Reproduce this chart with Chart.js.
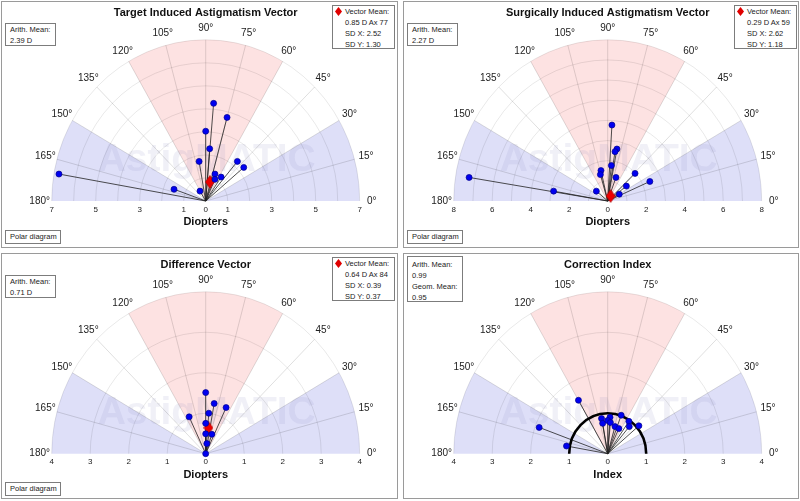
<!DOCTYPE html>
<html>
<head>
<meta charset="utf-8">
<script src="https://cdn.jsdelivr.net/npm/chart.js@4.4.1/dist/chart.umd.min.js"></script>
<style>
  body { margin: 0; width: 800px; height: 501px; background: #fff; position: relative; overflow: hidden;
         font-family: "Liberation Sans", Arial, sans-serif; }
  .panel { position: absolute; }
  .panel canvas { position: absolute; left: 0; top: 0; }
  .frame { position: absolute; left: 0; top: 0; right: 0; bottom: 0; border: 1px solid #9a9a9a; pointer-events: none; }
  .box { position: absolute; border: 1px solid #7c7c7c; background: #fff; box-sizing: border-box;
         font-size: 7.5px; line-height: 11px; color: #222; white-space: nowrap; padding-left: 4px; }
  .box.vec { padding-left: 12px; }
  .dia { position: absolute; left: 3px; top: 3px; width: 5px; height: 5px; background: #e00000;
         transform: scaleY(1.3) rotate(45deg); }
</style>
</head>
<body>
<script>
// angle labels round the half circle and x tick values for each diagram
const angleTicks = [0, 15, 30, 45, 60, 75, 90, 105, 120, 135, 150, 165, 180];
const tiaTicks = [-7, -5, -3, -1, 0, 1, 3, 5, 7];
const siaTicks = [-8, -6, -4, -2, 0, 2, 4, 6, 8];
const dvTicks = [-4, -3, -2, -1, 0, 1, 2, 3, 4];
const ciTicks = [-4, -3, -2, -1, 0, 1, 2, 3, 4];

// Target induced astigmatism vector (D)
const tiaX = [-6.67, -1.44, -0.26, -0.30, 0.00, 0.18, 0.36, 0.97, 0.42, 0.42, 0.70, 1.44, 1.73];
const tiaY = [1.17, 0.51, 0.43, 1.72, 3.03, 2.27, 4.24, 3.63, 1.17, 0.94, 1.04, 1.72, 1.46];
const tiaMean = [0.19, 0.83];

// Surgically induced astigmatism vector (D)
const siaX = [-7.20, -2.81, -0.59, -0.35, -0.38, 0.22, 0.48, 0.38, 0.19, 0.43, 0.97, 1.42, 2.19, 0.60];
const siaY = [1.17, 0.49, 0.49, 1.51, 1.31, 3.77, 2.58, 2.45, 1.76, 1.17, 0.74, 1.37, 0.97, 0.34];
const siaMean = [0.15, 0.25];

// Difference vector (D)
const dvX = [0.00, 0.22, 0.53, 0.08, -0.43, 0.00, 0.00, 0.16, 0.03, 0.00];
const dvY = [1.51, 1.24, 1.14, 1.00, 0.91, 0.75, 0.49, 0.48, 0.25, 0.00];
const dvMean = [0.07, 0.64];

// Correction index
const ciX = [-0.76, -1.78, -1.07, -0.16, -0.13, 0.06, 0.00, 0.07, 0.35, 0.19, 0.29, 0.55, 0.56, 0.81];
const ciY = [1.32, 0.65, 0.19, 0.87, 0.75, 0.90, 0.82, 0.77, 0.95, 0.67, 0.62, 0.80, 0.67, 0.69];

// sector bands (degrees)
const pinkBands = [[60, 120]];
const blueBands = [[0, 30], [150, 180]];

const panels = [
  { left: 1, top: 1, w: 397, h: 247, cy: 198, title: 'Target Induced Astigmatism Vector', axis: 'Diopters',
    max: 7, ticks: tiaTicks, xs: tiaX, ys: tiaY, mean: tiaMean,
    arith: ['Arith. Mean:', '2.39 D'], vec: ['Vector Mean:', '0.85 D Ax 77', 'SD X: 2.52', 'SD Y: 1.30'] },
  { left: 403, top: 1, w: 396, h: 247, cy: 198, title: 'Surgically Induced Astigmatism Vector', axis: 'Diopters',
    max: 8, ticks: siaTicks, xs: siaX, ys: siaY, mean: siaMean,
    arith: ['Arith. Mean:', '2.27 D'], vec: ['Vector Mean:', '0.29 D Ax 59', 'SD X: 2.62', 'SD Y: 1.18'] },
  { left: 1, top: 253, w: 397, h: 246, cy: 198.7, title: 'Difference Vector', axis: 'Diopters',
    max: 4, ticks: dvTicks, xs: dvX, ys: dvY, mean: dvMean,
    arith: ['Arith. Mean:', '0.71 D'], vec: ['Vector Mean:', '0.64 D Ax 84', 'SD X: 0.39', 'SD Y: 0.37'] },
  { left: 403, top: 253, w: 396, h: 246, cy: 198.7, title: 'Correction Index', axis: 'Index',
    max: 4, ticks: ciTicks, xs: ciX, ys: ciY, mean: null, unit: true,
    ci: ['Arith. Mean:', '0.99', 'Geom. Mean:', '0.95'] }
];

const FONT = '"Liberation Sans", Arial, sans-serif';
Chart.defaults.font.family = FONT;
Chart.defaults.color = '#222';

// red diamond marker for the vector mean
const diamond = document.createElement('canvas');
diamond.width = 10; diamond.height = 14;
{
  const c = diamond.getContext('2d');
  c.beginPath();
  c.moveTo(5, 0.5); c.lineTo(9.5, 7); c.lineTo(5, 13.5); c.lineTo(0.5, 7); c.closePath();
  c.fillStyle = '#ee0000'; c.fill();
  c.strokeStyle = '#a00000'; c.lineWidth = 0.6; c.stroke();
}

function polarGrid(p) {
  return {
    id: 'polarGrid',
    beforeDatasetsDraw(chart) {
      const { ctx } = chart;
      const x = chart.scales.x, y = chart.scales.y;
      const cx = x.getPixelForValue(0), cy = y.getPixelForValue(0);
      const rx = x.getPixelForValue(p.max) - cx, ry = cy - y.getPixelForValue(p.max);
      const rad = d => d * Math.PI / 180;
      ctx.save();

      const sector = (a0, a1, color) => {
        ctx.beginPath();
        ctx.moveTo(cx, cy);
        ctx.ellipse(cx, cy, rx, ry, 0, -rad(a1), -rad(a0));
        ctx.closePath();
        ctx.fillStyle = color;
        ctx.fill();
      };
      pinkBands.forEach(b => sector(b[0], b[1], 'rgb(253,226,226)'));
      blueBands.forEach(b => sector(b[0], b[1], 'rgb(222,223,248)'));

      // watermark
      ctx.font = 'bold 39px ' + FONT;
      ctx.textAlign = 'center';
      ctx.textBaseline = 'alphabetic';
      ctx.fillStyle = 'rgba(140,140,190,0.13)';
      ctx.fillText('AstigMATIC', cx + 1, cy - 30);

      // rings
      ctx.strokeStyle = 'rgba(0,0,0,0.09)';
      ctx.lineWidth = 1;
      for (let r = 1; r <= p.max; r++) {
        ctx.beginPath();
        ctx.ellipse(cx, cy, rx * r / p.max, ry * r / p.max, 0, Math.PI, 2 * Math.PI);
        ctx.stroke();
      }
      // spokes every 15 degrees
      ctx.strokeStyle = 'rgba(0,0,0,0.13)';
      angleTicks.slice(1, -1).forEach(a => {
        ctx.beginPath();
        ctx.moveTo(cx, cy);
        ctx.lineTo(cx + rx * Math.cos(rad(a)), cy - ry * Math.sin(rad(a)));
        ctx.stroke();
      });

      ctx.fillStyle = '#222';
      ctx.font = '10px ' + FONT;
      ctx.textBaseline = 'middle';
      angleTicks.forEach(a => {
        ctx.fillText(a + '\u00b0', cx + (rx + 12) * Math.cos(rad(a)), cy - (ry + 12) * Math.sin(rad(a)));
      });

      // lines from the origin to each eye
      ctx.strokeStyle = '#222';
      ctx.lineWidth = 0.8;
      chart.getDatasetMeta(0).data.forEach(pt => {
        ctx.beginPath();
        ctx.moveTo(cx, cy);
        ctx.lineTo(pt.x, pt.y);
        ctx.stroke();
      });

      if (p.unit) {
        ctx.strokeStyle = '#000';
        ctx.lineWidth = 2.6;
        ctx.beginPath();
        ctx.ellipse(cx, cy, rx / p.max, ry / p.max, 0, Math.PI, 2 * Math.PI);
        ctx.stroke();
      }
      ctx.restore();
    }
  };
}

function addBox(panel, cls, x, y, w, h, lines, icon) {
  const b = document.createElement('div');
  b.className = 'box ' + cls;
  Object.assign(b.style, { left: x + 'px', top: y + 'px', width: w + 'px', height: h + 'px' });
  if (icon) {
    const d = document.createElement('div');
    d.className = 'dia';
    b.appendChild(d);
  }
  lines.forEach(t => {
    const l = document.createElement('div');
    l.textContent = t;
    b.appendChild(l);
  });
  panel.appendChild(b);
  return b;
}

panels.forEach(p => {
  const div = document.createElement('div');
  div.className = 'panel';
  Object.assign(div.style, { left: p.left + 'px', top: p.top + 'px', width: p.w + 'px', height: p.h + 'px' });
  const cv = document.createElement('canvas');
  cv.width = p.w; cv.height = p.h;
  div.appendChild(cv);
  document.body.appendChild(div);

  const cx = 204.7, rx = 154;
  const datasets = [{
    data: p.xs.map((v, i) => ({ x: v, y: p.ys[i] })),
    pointRadius: 3, pointBackgroundColor: '#0000f0', pointBorderColor: '#00008a', pointBorderWidth: 0.7,
    showLine: false, clip: false
  }];
  if (p.mean) {
    datasets.push({
      data: [{ x: p.mean[0], y: p.mean[1] }],
      pointStyle: diamond, pointRadius: 6, showLine: false, clip: false
    });
  }

  new Chart(cv, {
    type: 'scatter',
    data: { datasets },
    options: {
      responsive: false, animation: false, devicePixelRatio: 1,
      layout: { padding: { left: cx - rx, right: p.w - cx - rx, top: 0, bottom: p.h - p.cy - 29.8 } },
      plugins: {
        legend: { display: false },
        tooltip: { enabled: false },
        title: {
          display: true, text: p.title, fullSize: false, color: '#111',
          font: { size: 11, weight: 'bold' }, padding: { top: 5, bottom: 20.6 }
        }
      },
      scales: {
        x: {
          type: 'linear', min: -p.max, max: p.max,
          grid: { display: false, drawTicks: false },
          border: { display: false },
          afterBuildTicks: s => { s.ticks = p.ticks.map(v => ({ value: v })); },
          ticks: { autoSkip: false, maxRotation: 0, padding: 3.5, font: { size: 8 }, color: '#222',
                   callback: v => Math.abs(v) },
          title: { display: true, text: p.axis, color: '#111', font: { size: 11, weight: 'bold' },
                   padding: { top: -2, bottom: 0 } }
        },
        y: { type: 'linear', min: 0, max: p.max, display: false }
      }
    },
    plugins: [polarGrid(p)]
  });

  const frame = document.createElement('div');
  frame.className = 'frame';
  div.appendChild(frame);

  if (p.arith) addBox(div, '', 4, 22, 51, 23, p.arith);
  if (p.vec) addBox(div, 'vec', 331, 4, 63, 44, p.vec, true);
  if (p.ci) addBox(div, '', 4, 3, 56, 46, p.ci).style.paddingTop = '1.5px';
  if (p.axis === 'Diopters') addBox(div, '', 4, 229, 56, 14, ['Polar diagram']).style.lineHeight = '12px';
});
</script>
</body>
</html>
